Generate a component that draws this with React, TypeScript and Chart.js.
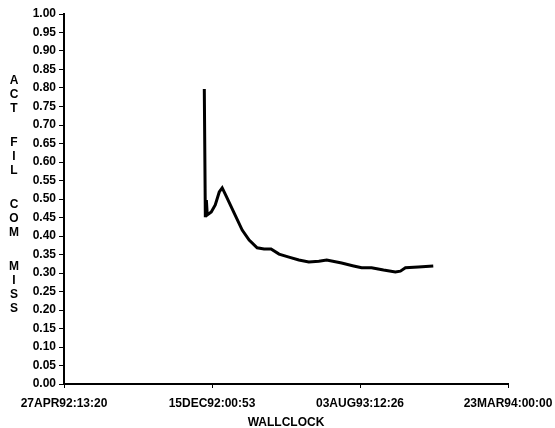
import React, { useEffect, useRef } from "react";
import { Chart, registerables } from "chart.js";

Chart.register(...registerables);

// X tick labels (evenly spaced); x values below are in units of one tick interval
const xTickLabels = ["27APR92:13:20", "15DEC92:00:53", "03AUG93:12:26", "23MAR94:00:00"];

const xValues = [
  0.948, 0.955, 0.962, 0.968, 0.995, 1.022, 1.049, 1.069, 1.096, 1.15, 1.204, 1.251,
  1.305, 1.352, 1.399, 1.453, 1.52, 1.587, 1.654, 1.722, 1.775, 1.876, 1.957, 2.011,
  2.078, 2.159, 2.239, 2.273, 2.307, 2.394, 2.495,
];
const yValues = [
  0.797, 0.451, 0.497, 0.457, 0.465, 0.484, 0.519, 0.53, 0.508, 0.462, 0.416, 0.389,
  0.368, 0.365, 0.365, 0.351, 0.343, 0.335, 0.33, 0.332, 0.335, 0.327, 0.319, 0.314,
  0.314, 0.308, 0.303, 0.305, 0.314, 0.316, 0.319,
];

const yTitleWords = ["ACT", "FIL", "COM", "MISS"];
const xTitle = "WALLCLOCK";

const FONT = "'Liberation Sans', Arial, Helvetica, sans-serif";

const stackedTitlePlugin = {
  id: "stackedTitle",
  afterDraw(chart: any) {
    const ctx = chart.ctx;
    const area = chart.chartArea;
    const step = 14;
    const gap = 20;
    const letters = yTitleWords.join("").length;
    const total = (letters - 1) * step + (yTitleWords.length - 1) * gap;
    let y = (area.top + area.bottom) / 2 - 4 - total / 2;
    ctx.save();
    ctx.fillStyle = "#000";
    ctx.font = `bold 12px ${FONT}`;
    ctx.textAlign = "center";
    ctx.textBaseline = "middle";
    yTitleWords.forEach((w, wi) => {
      for (let i = 0; i < w.length; i++) {
        ctx.fillText(w[i], 14, y);
        if (i < w.length - 1) y += step;
      }
      if (wi < yTitleWords.length - 1) y += step + gap;
    });
    ctx.restore();
  },
};

export default function App() {
  const ref = useRef<HTMLCanvasElement>(null);
  useEffect(() => {
    if (!ref.current) return;
    const data = xValues.map((x, i) => ({ x, y: yValues[i] }));
    const chart = new Chart(ref.current, {
      type: "line",
      data: {
        datasets: [
          {
            data,
            borderColor: "#000",
            borderWidth: 3,
            pointRadius: 0,
            tension: 0,
            fill: false,
          },
        ],
      },
      options: {
        responsive: false,
        animation: false,
        layout: { padding: { top: 14, right: 47, bottom: 0, left: 0 } },
        plugins: { legend: { display: false }, tooltip: { enabled: false } },
        scales: {
          x: {
            type: "linear",
            min: 0,
            max: 3,
            afterFit: (s: any) => {
              s.height = 44;
              s.paddingLeft = 0;
              s.paddingRight = 0;
            },
            border: { display: true, color: "#000", width: 2 },
            grid: { display: true, drawOnChartArea: false, drawTicks: true, tickLength: 4, color: "#000" },
            ticks: {
              stepSize: 1,
              autoSkip: false,
              maxRotation: 0,
              color: "#000",
              padding: 8,
              font: { family: FONT, size: 12, weight: "bold" },
              callback: (v: any) => xTickLabels[Math.round(Number(v))] ?? "",
            },
            title: {
              display: true,
              text: xTitle,
              color: "#000",
              padding: { top: 0, bottom: -2 },
              font: { family: FONT, size: 12, weight: "bold" },
            },
          },
          y: {
            min: 0,
            max: 1,
            afterFit: (s: any) => {
              s.width = 64;
            },
            border: { display: true, color: "#000", width: 2 },
            grid: { display: true, drawOnChartArea: false, drawTicks: true, tickLength: 5, color: "#000" },
            ticks: {
              stepSize: 0.05,
              autoSkip: false,
              color: "#000",
              padding: 3,
              font: { family: FONT, size: 12, weight: "bold" },
              callback: (v: any) => Number(v).toFixed(2),
            },
          },
        },
      },
      plugins: [stackedTitlePlugin],
    });
    return () => chart.destroy();
  }, []);
  return (
    <div style={{ position: "absolute", left: 0, top: 0, width: 555, height: 428, background: "#fff" }}>
      <canvas ref={ref} width={555} height={428} />
    </div>
  );
}
